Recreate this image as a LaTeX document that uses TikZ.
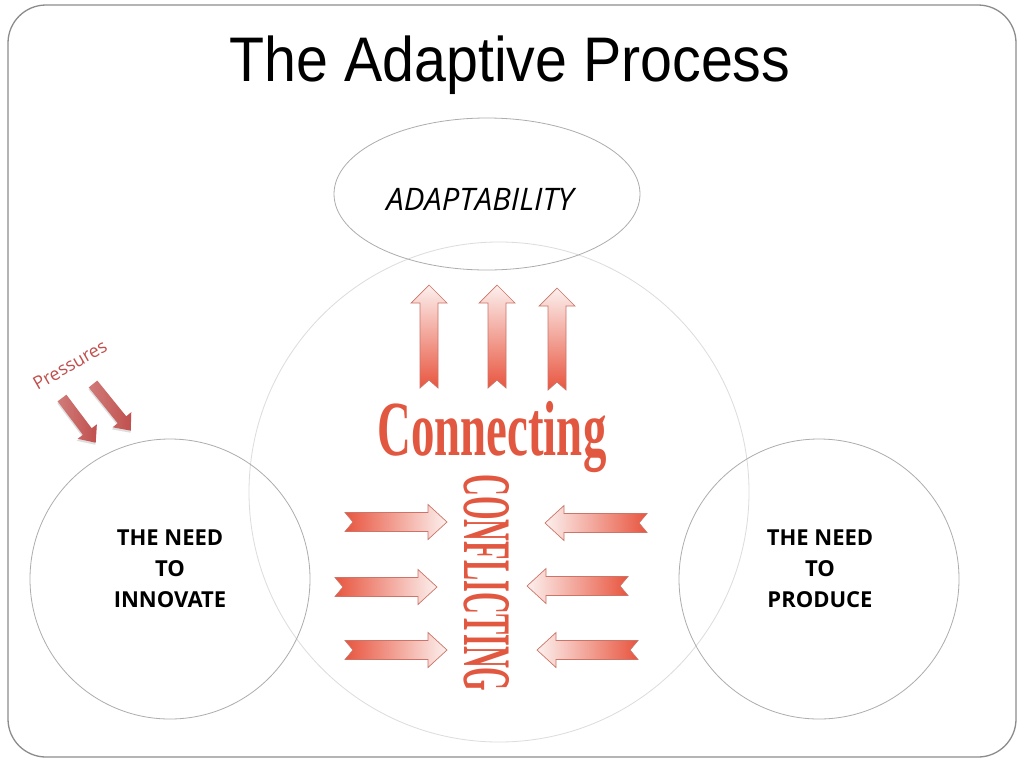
\documentclass[tikz,border=0pt]{standalone}
\usepackage{fontspec}
\setmainfont{Liberation Sans}
\newfontfamily\titlefont[FakeStretch=0.91]{Liberation Sans}
\newfontfamily\osfont{Open Sans}
\newfontfamily\serffont{Liberation Serif}
\usetikzlibrary{shapes.geometric}
\definecolor{arrred}{HTML}{E8553F}
\definecolor{arrlight}{HTML}{FCF0EE}
\definecolor{arredge}{HTML}{CC7467}
\definecolor{txtred}{HTML}{E2573F}
\definecolor{presred}{HTML}{C0504D}
\definecolor{framegray}{HTML}{8C8C8C}
\definecolor{ringgray}{HTML}{ADADAD}
\definecolor{biggray}{HTML}{DCDCDC}
\tikzset{
  ring/.style={draw=ringgray, line width=0.8pt, inner sep=0pt, outer sep=0pt},
  bigring/.style={draw=biggray, line width=0.8pt, inner sep=0pt, outer sep=0pt},
  needtext/.style={align=center, font=\osfont\bfseries\fontsize{22}{31}\selectfont, inner sep=0pt},
  arrowline/.style={draw=arredge, line width=0.7pt, line join=miter},
}
% up arrow: centre x, tip y, bottom y
\newcommand\UpArr[3]{%
  \path[arrowline, top color=arrlight, bottom color=arrred]
   ({#1-9},#3) -- ({#1-9},{#2+18}) -- ({#1-18},{#2+18}) -- (#1,#2)
   -- ({#1+18},{#2+18}) -- ({#1+9},{#2+18}) -- ({#1+9},#3) -- (#1,{#3-8}) -- cycle;}
% right arrow: tail x, tip x, centre y
\newcommand\RArr[3]{%
  \path[arrowline, left color=arrred, right color=arrlight]
   (#1,{#3-9.5}) -- ({#2-19},{#3-9.5}) -- ({#2-19},{#3-17.5}) -- (#2,#3)
   -- ({#2-19},{#3+17.5}) -- ({#2-19},{#3+9.5}) -- (#1,{#3+9.5}) -- ({#1+8},#3) -- cycle;}
% left arrow: tail x, tip x, centre y
\newcommand\LArr[3]{%
  \path[arrowline, right color=arrred, left color=arrlight]
   (#1,{#3-9.5}) -- ({#2+19},{#3-9.5}) -- ({#2+19},{#3-17.5}) -- (#2,#3)
   -- ({#2+19},{#3+17.5}) -- ({#2+19},{#3+9.5}) -- (#1,{#3+9.5}) -- ({#1-8},#3) -- cycle;}
% pressure arrow: tail point, angle, length
\newcommand\PArr[3]{%
  \begin{scope}[shift={#1}, rotate=#2]
  \fill[black!25, opacity=0.5] (1.5,-4) -- ({#3-13},-4) -- ({#3-13},-11) -- (#3+1.5,1.5) -- ({#3-13},14) -- ({#3-13},7) -- (1.5,7) -- cycle;
  \path[left color=presred!75, right color=presred] (0,-5.5) -- ({#3-14},-5.5) -- ({#3-14},-12) -- (#3,0) -- ({#3-14},12) -- ({#3-14},5.5) -- (0,5.5) -- cycle;
  \end{scope}}
\begin{document}
\begin{tikzpicture}[x=1pt,y=-1pt]
\useasboundingbox (0,0) rectangle (1024,766);
\fill[white] (0,0) rectangle (1024,766);
\draw[framegray, line width=1.3pt, rounded corners=38pt] (8,5) rectangle (1016,757);

\node[anchor=base, inner sep=0pt, font=\titlefont\fontsize{63}{70}\selectfont] (title) at (510,81) {The Adaptive Process};

% circles
\node[bigring, circle, minimum size=500pt] (core) at (499,492) {};
\node[ring, ellipse, minimum width=306pt, minimum height=152pt] (adapt) at (487,194) {};
\node[inner sep=0pt, font=\osfont\itshape\fontsize{31}{34}\selectfont] (adapttxt) at (480,199) {ADAPTABILITY};
\node[ring, circle, minimum size=280pt] (innov) at (170,579) {};
\node[ring, circle, minimum size=280pt] (prod) at (819,579) {};
\node[needtext] (innovtxt) at (170,569) {THE NEED\\TO\\INNOVATE};
\node[needtext] (prodtxt) at (820,569) {THE NEED\\TO\\PRODUCE};

% up arrows
\UpArr{429}{285}{388}
\UpArr{497}{285}{388}
\UpArr{557}{288}{390}

% Connecting
\node[anchor=base, inner sep=0pt, text=txtred] (conn) at (492,455)
  {\scalebox{0.6}[1]{\serffont\bfseries\fontsize{78}{80}\selectfont Connecting}};
% Conflicting
\node[inner sep=0pt, text=txtred, rotate=-90] (conf) at (487,583)
  {\scalebox{0.445}[1]{\serffont\bfseries\fontsize{68}{70}\selectfont CONFLICTING}};

% horizontal arrows
\RArr{345}{447}{522}
\RArr{335}{437}{587}
\RArr{345}{447}{650}
\LArr{647}{545}{523}
\LArr{628}{527}{586}
\LArr{638}{537}{650}

% pressures
\node[rotate=30, inner sep=0pt, text=presred, font=\osfont\fontsize{18}{20}\selectfont] (press) at (70,365) {Pressures};
\PArr{(62,398)}{-53}{56}
\PArr{(93,384)}{-51}{60}
\end{tikzpicture}
\end{document}
